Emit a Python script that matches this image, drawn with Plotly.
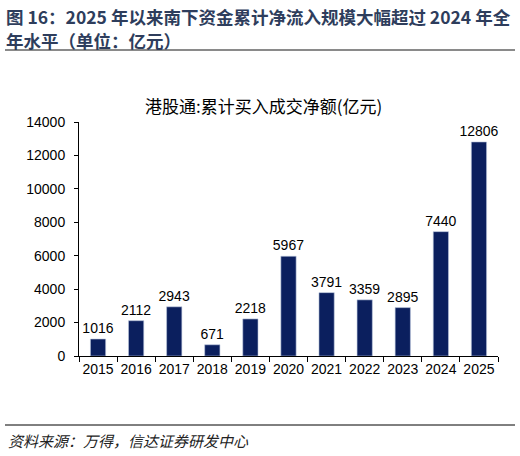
import plotly.graph_objects as go

years = ['2015', '2016', '2017', '2018', '2019', '2020',
         '2021', '2022', '2023', '2024', '2025']
net_buy = [1016, 2112, 2943, 671, 2218, 5967, 3791, 3359, 2895, 7440, 12806]

fig_title_1 = '图 16：2025 年以来南下资金累计净流入规模大幅超过 2024 年全'
fig_title_2 = '年水平（单位：亿元）'
chart_title = '港股通:累计买入成交净额(亿元)'
source_text = '资料来源：万得，信达证券研发中心'

# plot area in pixels
L, R, T, B = 79, 22, 122, 100
W = 520 - L - R
H = 456 - T - B


def px_x(p):
    return (p - L) / W


def px_y(p):
    return (456 - B - p) / H


fig = go.Figure()
fig.add_trace(go.Bar(
    x=years, y=net_buy,
    marker=dict(color='#0B1F5E', line=dict(color='#B8C4DC', width=0.6)),
    text=[str(v) for v in net_buy], textposition='outside',
    constraintext='none',
    textfont=dict(family='Liberation Sans, Arial', size=14, color='#000000'),
    cliponaxis=False,
))

fig.update_layout(
    width=520, height=456,
    margin=dict(l=L, r=R, t=T, b=B),
    paper_bgcolor='white', plot_bgcolor='white',
    showlegend=False,
    bargap=0.6,
    font=dict(family='Liberation Sans, Arial', size=14, color='#000000'),
)
fig.update_xaxes(
    type='category', showline=True, linecolor='#000000', linewidth=1,
    ticks='outside', tickson='boundaries', ticklen=5, tickcolor='#000000',
    showgrid=False, tickfont=dict(size=14), tickangle=0,
)
fig.update_yaxes(
    range=[0, 14000], dtick=2000, tickformat='d', showline=True,
    linecolor='#000000', linewidth=1, ticks='outside', ticklen=4,
    tickcolor='#000000', showgrid=False, zeroline=False,
    tickfont=dict(size=14), ticklabelstandoff=6,
)

title_font = dict(family='Noto Sans CJK SC', size=17.5, color='#2E3D5C', weight='bold')
for txt, ypx in [(fig_title_1, 16), (fig_title_2, 41)]:
    fig.add_annotation(
        text=txt, xref='paper', yref='paper',
        x=px_x(4), y=px_y(ypx), xanchor='left', yanchor='middle', align='left',
        showarrow=False, font=title_font,
    )
fig.add_annotation(
    text=chart_title, xref='paper', yref='paper',
    x=px_x(263), y=px_y(105), xanchor='center', yanchor='middle',
    showarrow=False,
    font=dict(family='Noto Sans CJK SC', size=17, color='#000000'),
)
fig.add_annotation(
    text='<i>' + source_text + '</i>', xref='paper', yref='paper',
    x=px_x(6), y=px_y(440), xanchor='left', yanchor='middle',
    showarrow=False,
    font=dict(family='Noto Sans CJK SC', size=15, color='#222222'),
)

fig.add_shape(type='line', xref='paper', yref='paper',
              x0=px_x(5), x1=px_x(515), y0=px_y(50), y1=px_y(50),
              line=dict(color='#8A8A8A', width=2))
fig.add_shape(type='line', xref='paper', yref='paper',
              x0=px_x(5), x1=px_x(515), y0=px_y(425), y1=px_y(425),
              line=dict(color='#000000', width=1))

# the page body has a default 8px margin; drop it so the figure sits at 0,0
fig.write_html("out.html", config={'displayModeBar': False},
               post_script="document.body.style.margin='0';")
